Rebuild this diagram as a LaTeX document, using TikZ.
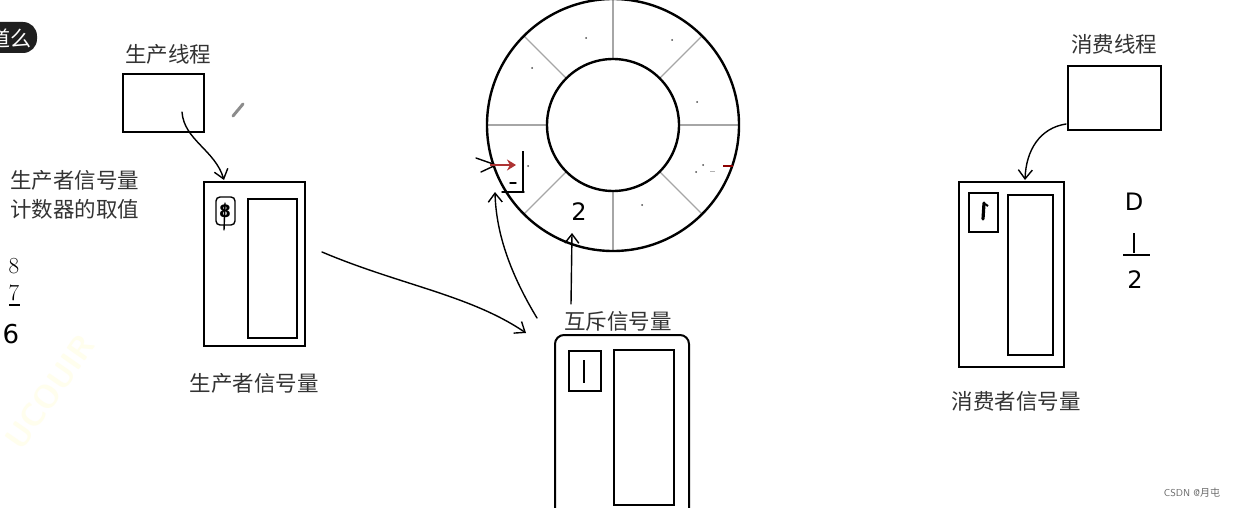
\documentclass[tikz,border=0pt]{standalone}
\usepackage{fontspec}
\newfontfamily\cjk{Noto Sans CJK SC}
\newfontfamily\hand{DejaVu Sans}
\usetikzlibrary{arrows.meta,calc}
\begin{document}
\begin{tikzpicture}[x=1pt,y=-1pt,
  box/.style={draw, line width=2pt, inner sep=0pt},
  lab/.style={font=\cjk\fontsize{21.5}{24}\selectfont, text=black!80, inner sep=0pt},
  num/.style={font=\fontsize{23}{26}\selectfont, inner sep=0pt},
  hnum/.style={font=\hand\fontsize{24}{26}\selectfont, inner sep=0pt},
  ink/.style={line width=1.4pt, line cap=round, line join=round},
  tip/.style={-{Straight Barb[length=9pt,width=14pt,line width=1.4pt]}},
  spoke/.style={draw=black!35, line width=1.2pt},
  dot/.style={fill=black!70, circle, inner sep=0pt, minimum size=2pt}]
\useasboundingbox (0,0) rectangle (1241,508);
\fill[white] (0,0) rectangle (1241,508);

% watermark
\node[font=\sffamily\bfseries\fontsize{32}{32}\selectfont, text=yellow!7, rotate=55, inner sep=0pt] (wm) at (50,392) {UCOUIR};

% badge top-left
\fill[black!88, rounded corners=14pt] (-30,22) rectangle (37,53);
\node[font=\cjk\fontsize{21}{24}\selectfont, text=white, anchor=east, inner sep=0pt] (badge) at (32,38) {道么};

% ---------- producer ----------
\node[lab] (ptlab) at (168,54) {生产线程};
\node[box, minimum width=81pt, minimum height=58pt] (pthread) at (163.5,103) {};
\draw[draw=black!45, line width=3pt, line cap=round] (233,116) -- (243,104);

\node[lab, anchor=west] (pcl1) at (10,180) {生产者信号量};
\node[lab, anchor=west] (pcl2) at (10,209) {计数器的取值};
\node[num] (n8) at (14,266) {8};
\node[num] (n7) at (14,293) {7};
\draw[line width=1.3pt] (9,305) -- (20,305);
\node[hnum, font=\hand\fontsize{26}{28}\selectfont] (n6) at (11,334) {6};

\node[box, minimum width=101pt, minimum height=164pt] (psem) at (254.5,264) {};
\node[box, minimum width=49pt, minimum height=139pt] (psemq) at (272.5,268.5) {};
\draw[ink, rounded corners=4pt] (216,197) rectangle (235,225);
\node[hnum, font=\hand\bfseries\fontsize{17}{20}\selectfont] (pval) at (225,211) {8};
\draw[ink] (225,203) -- (224,230);
\node[lab] (pslab) at (254,383) {生产者信号量};

\coordinate (p1) at (182,112);
\draw[ink, tip] (p1) .. controls (184,140) and (215,150) .. (224,180);

% ---------- ring buffer ----------
\coordinate (rc) at (613,125);
\foreach \a in {0,45,...,315}
  \draw[spoke] ($(rc)+(\a:66)$) -- ($(rc)+(\a:126)$);
\draw[line width=2.4pt] (rc) circle (126);
\draw[line width=2.4pt] (rc) circle (66);
\foreach \p in {(586,38),(672,40),(532,68),(697,102),(528,166),(642,205),(703,165),(696,172)}
  \node[dot] at \p {};
\draw[draw=black!30, line width=1pt] (710,171) -- (715,171);
\draw[draw=red!55!black, line width=2pt] (723,166) -- (733,166);

% marks on the left of ring
\draw[ink] (476,158) -- (496,165) -- (481,172);
\draw[draw=red!60!black!80, line width=2.6pt, -{Stealth[length=9pt,width=11pt]}] (490,165) -- (516,165);
\draw[line width=1.8pt] (523,151) -- (523,192);
\draw[ink] (510,183) -- (516,183);
\draw[ink] (502,192) -- (524,192);

\node[hnum] (two) at (579,212) {2};

% ---------- mutex ----------
\node[lab] (mlab) at (618,321) {互斥信号量};
\draw[line width=2pt, rounded corners=9pt] (555,530) -- (555,335) -- (689,335) -- (689,530);
\node[box, minimum width=32pt, minimum height=40pt] (mval) at (585,371) {};
\draw[line width=1.6pt] (584,360) -- (584,383);
\node[box, minimum width=60pt, minimum height=155pt] (mq) at (644,427.5) {};

\coordinate (m1) at (571,304);
\coordinate (m2) at (572,233);
\draw[ink, tip] (m1) -- (m2);

\coordinate (b1) at (537,318);
\coordinate (b2) at (495,192);
\draw[ink, tip] (b1) .. controls (508,270) and (496,230) .. (b2);

\coordinate (a1) at (322,252);
\coordinate (a2) at (526,333);
\draw[ink, tip] (a1) .. controls (400,285) and (470,295) .. (a2);

% ---------- consumer ----------
\node[lab] (ctlab) at (1114,44) {消费线程};
\node[box, minimum width=93pt, minimum height=64pt] (cthread) at (1114.5,98) {};
\node[box, minimum width=105pt, minimum height=185pt] (csem) at (1011.5,274) {};
\node[box, minimum width=29pt, minimum height=39pt] (cval) at (983.5,212.5) {};
\draw[line width=3.2pt, line cap=round] (984,203) -- (983,219);
\draw[line width=2pt] (985,204) -- (988,206);
\node[box, minimum width=45pt, minimum height=160pt] (cq) at (1030.5,275) {};
\node[lab] (cslab) at (1016,401) {消费者信号量};

\coordinate (c1) at (1066,124);
\draw[ink, tip] (c1) .. controls (1040,128) and (1026,150) .. (1025,180);

\node[hnum] (cD) at (1134,202) {D};
\draw[line width=1.4pt] (1134,233) -- (1134,253);
\draw[line width=1.4pt] (1123,255) -- (1150,255);
\node[hnum] (c2) at (1135,280) {2};

\node[font=\sffamily\fontsize{10}{12}\selectfont, text=black!60] (csdn) at (1192,493) {CSDN @\cjk 月屯};
\end{tikzpicture}
\end{document}
